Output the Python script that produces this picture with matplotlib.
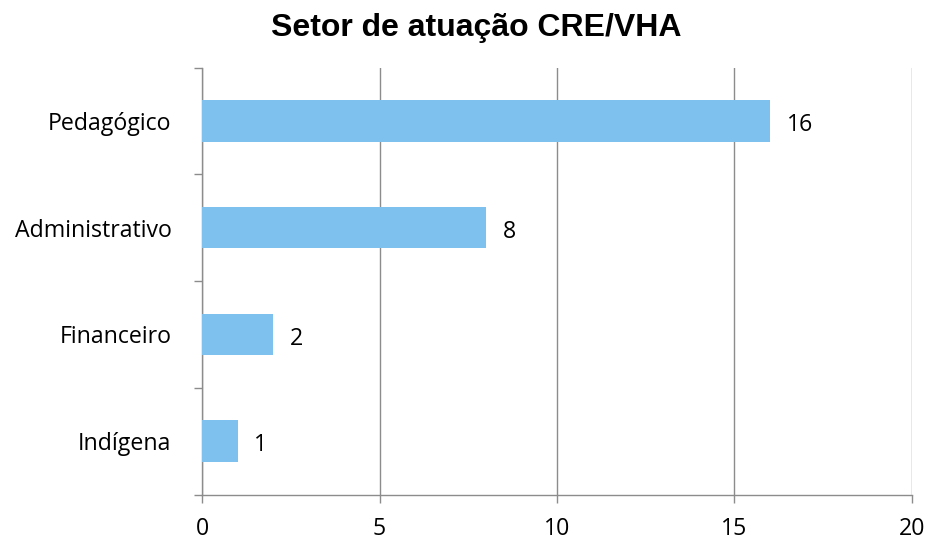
import matplotlib
matplotlib.use("Agg")
import matplotlib.pyplot as plt

categories = ["Pedagógico", "Administrativo", "Financeiro", "Indígena"]
values = [16, 8, 2, 1]
xticks = [0, 5, 10, 15, 20]

bar_color = "#7FC1EE"
grid_color = "#8C8C8C"

fig = plt.figure(figsize=(9.29, 5.41), dpi=100)
ax = fig.add_axes([202/929, 1-494.5/541, 710/929, 427/541])

ypos = list(range(len(categories)))
ax.barh(ypos, values, height=0.39, color=bar_color, zorder=3)
ax.set_ylim(len(categories)-0.5, -0.5)
ax.set_xlim(0, 20)
ax.set_xticks(xticks)
ax.set_xticklabels([str(t) for t in xticks])
ax.set_yticks(ypos)
ax.set_yticklabels(categories)
ax.set_yticks([i - 0.5 for i in range(len(categories)+1)], minor=True)

font = "Open Sans"
fs = 16.7
for lab in ax.get_xticklabels() + ax.get_yticklabels():
    lab.set_fontfamily(font)
    lab.set_fontsize(fs)

ax.tick_params(axis="y", which="major", length=0, pad=22)
ax.tick_params(axis="y", which="minor", length=6, width=1, color=grid_color, direction="out")
ax.tick_params(axis="x", which="major", length=6, width=1, color=grid_color, direction="out", pad=10)

ax.grid(axis="x", color=grid_color, linewidth=1, zorder=0)
for s in ["top", "right"]:
    ax.spines[s].set_visible(False)
for s in ["left", "bottom"]:
    ax.spines[s].set_color(grid_color)
    ax.spines[s].set_linewidth(1)

for y, v in zip(ypos, values):
    ax.annotate(str(v), xy=(v, y), xytext=(12, -3), textcoords="offset points",
                va="center", ha="left", fontsize=fs, fontfamily=font)

fig.text(476/929, 1-28/541, "Setor de atuação CRE/VHA", ha="center", va="center",
         fontsize=23, fontweight="bold", fontfamily="Liberation Sans")

fig.savefig("out.png", dpi=100)
